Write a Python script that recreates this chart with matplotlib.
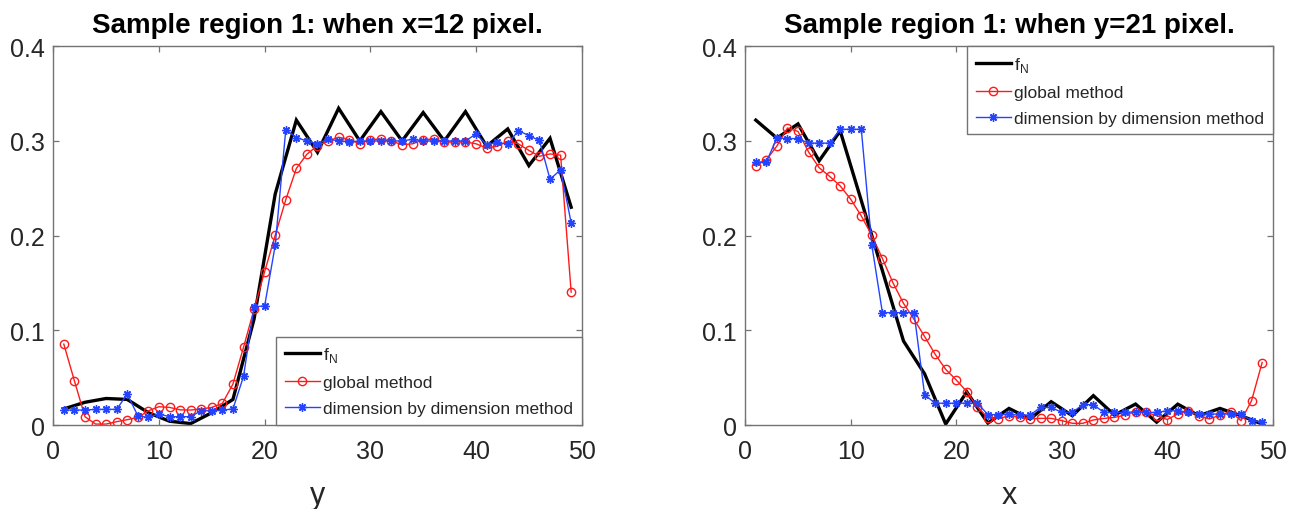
import numpy as np
import matplotlib
matplotlib.use("Agg")
import matplotlib.pyplot as plt

plt.rcParams['font.family'] = ['Liberation Sans', 'DejaVu Sans']
plt.rcParams['mathtext.fontset'] = 'custom'
plt.rcParams['mathtext.rm'] = 'Liberation Sans'

# ---------------- data: profile along y at x = 12 ----------------
y_fine = np.arange(1, 50)
y_coarse = np.arange(1, 50, 2)

fN_col = [0.017, 0.024, 0.028, 0.027, 0.013, 0.004, 0.0015, 0.013, 0.027,
          0.112, 0.244, 0.322, 0.288, 0.3345, 0.300, 0.331, 0.300, 0.330,
          0.300, 0.331, 0.2944, 0.3127, 0.274, 0.3028, 0.230]

global_col = [0.0854, 0.0467, 0.0088, 0.001, 0.001, 0.0035, 0.0056, 0.008,
              0.015, 0.0193, 0.0186, 0.016, 0.0158, 0.0169, 0.0186, 0.0228,
              0.0432, 0.082, 0.1223, 0.162, 0.2004, 0.238, 0.271, 0.286,
              0.295, 0.300, 0.304, 0.3014, 0.297, 0.3014, 0.302, 0.300,
              0.296, 0.297, 0.3014, 0.302, 0.2986, 0.299, 0.299, 0.297,
              0.2926, 0.2944, 0.2996, 0.297, 0.290, 0.2838, 0.2863, 0.285,
              0.1404]

dim_col = [0.0158, 0.0158, 0.0158, 0.0165, 0.0165, 0.0165, 0.0327, 0.0098,
           0.008, 0.0116, 0.0088, 0.0088, 0.0088, 0.0151, 0.0151, 0.0158,
           0.0169, 0.0513, 0.1248, 0.1258, 0.1898, 0.3120, 0.3036, 0.300,
           0.297, 0.302, 0.300, 0.299, 0.300, 0.300, 0.300, 0.300, 0.300,
           0.3018, 0.300, 0.300, 0.300, 0.300, 0.300, 0.3074, 0.296, 0.2985,
           0.2965, 0.311, 0.3056, 0.3005, 0.2596, 0.2695, 0.2135]

# ---------------- data: profile along x at y = 21 ----------------
x_fine = np.arange(1, 50)
x_coarse = np.arange(1, 50, 2)

fN_row = [0.322, 0.303, 0.318, 0.279, 0.3106, 0.237, 0.163, 0.0887, 0.054,
          0.001, 0.035, 0.002, 0.0175, 0.0063, 0.0246, 0.0098, 0.031, 0.0105,
          0.0221, 0.003, 0.022, 0.0098, 0.0175, 0.0098, 0.001]

global_row = [0.274, 0.280, 0.2947, 0.3137, 0.310, 0.2884, 0.2718, 0.2626,
              0.2525, 0.2384, 0.2208, 0.2002, 0.1758, 0.1502, 0.1285, 0.1116,
              0.0935, 0.0747, 0.0588, 0.0476, 0.0352, 0.019, 0.0078, 0.0068,
              0.0097, 0.0084, 0.0065, 0.007, 0.007, 0.0046, 0.0018, 0.0018,
              0.0053, 0.007, 0.008, 0.0105, 0.014, 0.0133, 0.0098, 0.0058,
              0.0116, 0.0151, 0.0098, 0.0063, 0.0105, 0.014, 0.0046, 0.0258,
              0.066]

dim_row = [0.2778, 0.2778, 0.3032, 0.3025, 0.3025, 0.2977, 0.2977, 0.2977,
           0.3123, 0.3123, 0.3123, 0.1898, 0.1187, 0.1187, 0.1187, 0.1187,
           0.0320, 0.0230, 0.0230, 0.0230, 0.0230, 0.0230, 0.0110, 0.0110,
           0.0112, 0.0105, 0.0105, 0.0186, 0.0186, 0.0133, 0.0133, 0.0215,
           0.0215, 0.0133, 0.0133, 0.0133, 0.014, 0.0133, 0.0133, 0.015,
           0.015, 0.0133, 0.0116, 0.0116, 0.0116, 0.0116, 0.0113, 0.0046,
           0.0035]

x_ticks = [0, 10, 20, 30, 40, 50]
y_ticks = [0, 0.1, 0.2, 0.3, 0.4]
y_ticklabels = ['0', '0.1', '0.2', '0.3', '0.4']

legend_labels = [r'f$_\mathregular{N}$', 'global method',
                 'dimension by dimension method']

RED = '#ff1a1a'
BLUE = '#2443ff'
SPINE = '0.45'
TEXT = '0.15'
ASTERISK = (8, 2, 0)

fig = plt.figure(figsize=(13.02, 5.10), dpi=100)
ax1 = fig.add_axes([0.0409, 0.1647, 0.4059, 0.7426])
ax2 = fig.add_axes([0.5724, 0.1647, 0.4051, 0.7426])


def draw_panel(ax, xc, fN, xf, glob, dim, title, xlabel, legend_loc):
    l1, = ax.plot(xc, fN, color='black', lw=2.4, solid_joinstyle='miter')
    l2, = ax.plot(xf, glob, color=RED, lw=1.0, marker='o', ms=6.0,
                  mfc='none', mec=RED, mew=1.0)
    l3, = ax.plot(xf, dim, color=BLUE, lw=1.0, marker=ASTERISK, ms=6.0,
                  mec=BLUE, mew=1.0)
    ax.set_xlim(0, 50)
    ax.set_ylim(0, 0.4)
    ax.set_xticks(x_ticks)
    ax.set_yticks(y_ticks)
    ax.set_yticklabels(y_ticklabels)
    ax.tick_params(direction='in', top=True, right=True, length=4.5,
                   width=0.9, color=SPINE, labelcolor=TEXT, labelsize=18)
    ax.tick_params(axis='x', pad=10)
    ax.tick_params(axis='y', pad=6)
    for s in ax.spines.values():
        s.set_color(SPINE)
        s.set_linewidth(1.0)
    ax.set_title(title, fontsize=20, fontweight='bold', pad=10, color='black')
    ax.set_xlabel(xlabel, fontsize=22, color=TEXT, labelpad=12)
    leg = ax.legend([l1, l2, l3], legend_labels, loc=legend_loc,
                    borderaxespad=0.0, fontsize=12.5, handlelength=2.0,
                    handletextpad=0.2, labelspacing=0.62, borderpad=0.5,
                    fancybox=False, framealpha=1.0, edgecolor=SPINE)
    leg.get_frame().set_linewidth(1.0)
    for t in leg.get_texts():
        t.set_color(TEXT)


draw_panel(ax1, y_coarse, fN_col, y_fine, global_col, dim_col,
           'Sample region 1: when x=12 pixel.', 'y', 'lower right')
draw_panel(ax2, x_coarse, fN_row, x_fine, global_row, dim_row,
           'Sample region 1: when y=21 pixel.', 'x', 'upper right')

fig.savefig('out.png', dpi=100)
